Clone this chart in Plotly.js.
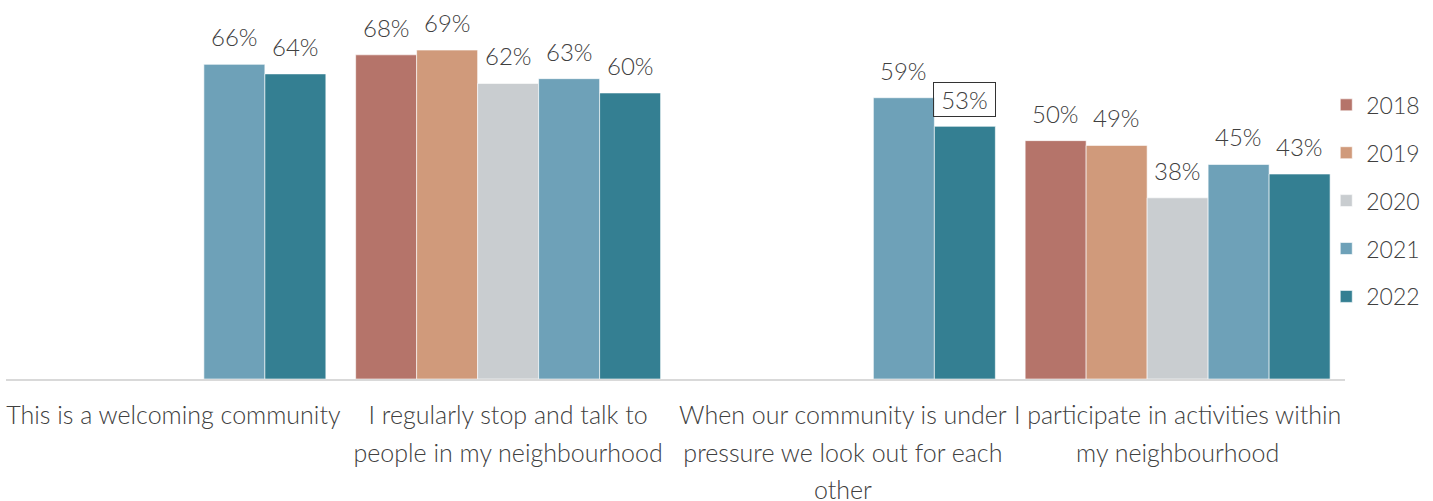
<!DOCTYPE html>
<html>
<head>
<meta charset="utf-8">
<script src="https://cdn.plot.ly/plotly-3.0.1.min.js"></script>
<style>html,body{margin:0;padding:0;background:#fff;}#chart{width:1433px;height:501px;}</style>
</head>
<body>
<div id="chart"></div>
<script>
// ---- data ----
const categories = [
  "This is a welcoming community",
  "I regularly stop and talk to<br>people in my neighbourhood",
  "When our community is under<br>pressure we look out for each<br>other",
  "I participate in activities within<br>my neighbourhood"
];
const years = ["2018", "2019", "2020", "2021", "2022"];
const v2018 = [null, 68, null, 50];
const v2019 = [null, 69, null, 49];
const v2020 = [null, 62, null, 38];
const v2021 = [66, 63, 59, 45];
const v2022 = [64, 60, 53, 43];
const boxedLabel = {year: "2022", category: 2};

// ---- styles ----
const colors = ["#b5746a", "#d09a7b", "#c9cdd0", "#6ea1b8", "#347f92"];
const seriesValues = [v2018, v2019, v2020, v2021, v2022];
const W = 1433, H = 501;
const M = {l: 6, r: 88, t: 0, b: 122};
const bargap = 0.089;
const FONT = "Lato, 'Source Sans Pro', sans-serif";
const textColor = "#404040";
const tickGlyphSize = 25;   // visible glyph size
const tickLineSize = 29;    // controls line spacing (1.3em)

const plotW = W - M.l - M.r;
const bw = plotW / categories.length * (1 - bargap) / years.length;

const traces = years.map((yr, i) => ({
  type: "bar",
  name: yr,
  x: categories,
  y: seriesValues[i],
  legendgroup: yr,
  marker: {color: colors[i], line: {color: "rgba(255,255,255,0.6)", width: 1}},
  hoverinfo: "skip"
}));

const tickText = categories.map(c =>
  c.split("<br>").map(s => `<span style="font-size:${tickGlyphSize}px">${s}</span>`).join("<br>")
);

const annotations = [];
years.forEach((yr, i) => {
  seriesValues[i].forEach((v, j) => {
    if (v === null) return;
    const boxed = (yr === boxedLabel.year && j === boxedLabel.category);
    const a = {
      x: categories[j], y: v, xref: "x", yref: "y",
      text: v + "%", showarrow: false,
      xanchor: "center", yanchor: "bottom",
      xshift: (i - (years.length - 1) / 2) * bw,
      yshift: 11,
      font: {family: FONT, size: 24, color: textColor, weight: 300}
    };
    if (boxed) {
      a.bordercolor = "#333333";
      a.borderwidth = 1;
      a.borderpad = 2;
      a.width = bw - 4;
      a.yshift = 9;
    }
    annotations.push(a);
  });
});

const layout = {
  width: W, height: H,
  margin: M,
  paper_bgcolor: "#ffffff", plot_bgcolor: "#ffffff",
  barmode: "group",
  bargap: bargap, bargroupgap: 0,
  font: {family: FONT, size: 24, color: textColor, weight: 300},
  xaxis: {
    showgrid: false, zeroline: false,
    showline: true, linecolor: "#d9d9d9", linewidth: 2,
    ticks: "", tickangle: 0,
    tickmode: "array", tickvals: categories, ticktext: tickText,
    tickfont: {family: FONT, size: tickLineSize, color: textColor, weight: 300},
    ticklabelstandoff: 8
  },
  yaxis: {visible: false, range: [0, 79.5], showgrid: false, zeroline: false},
  showlegend: true,
  legend: {
    x: 0.986, xanchor: "left", y: 0.47, yanchor: "middle",
    traceorder: "grouped", tracegroupgap: 15,
    font: {family: FONT, size: 23, color: textColor, weight: 300},
    bgcolor: "rgba(0,0,0,0)"
  },
  annotations: annotations
};

Plotly.newPlot("chart", traces, layout, {displayModeBar: false, staticPlot: true});
</script>
</body>
</html>
